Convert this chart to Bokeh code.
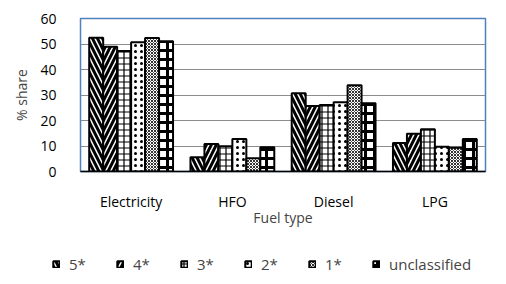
from bokeh.plotting import figure
from bokeh.models import FactorRange, Legend, LegendItem, ColumnDataSource, Range1d, FixedTicker
from bokeh.layouts import column
from bokeh.transform import dodge
from bokeh.embed import file_html
from bokeh.resources import INLINE

fuels = ["Electricity", "HFO", "Diesel", "LPG"]
classes = ["5*", "4*", "3*", "2*", "1*", "unclassified"]
s5 = [52.5, 5.6, 30.7, 11.2]
s4 = [48.9, 10.8, 25.7, 14.8]
s3 = [47.3, 9.9, 26.1, 16.6]
s2 = [50.7, 12.7, 27.2, 9.7]
s1 = [52.4, 5.2, 33.8, 9.3]
su = [51.1, 9.5, 26.8, 12.7]
yticks = [0, 10, 20, 30, 40, 50, 60]

series = [s5, s4, s3, s2, s1, su]
data = {"fuel": fuels}
for i, s in enumerate(series):
    data["s%d" % i] = s
src = ColumnDataSource(data)

FONT = "Open Sans"
W = 498

p = figure(x_range=FactorRange(factors=fuels, range_padding=0), y_range=Range1d(0, 60),
           width=W, height=236, output_backend="svg", toolbar_location=None,
           min_border_left=80, min_border_right=13, min_border_top=18, min_border_bottom=65)
p.frame_align = False

hatches = [
    dict(hatch_pattern="\\", hatch_scale=10, hatch_weight=3),
    dict(hatch_pattern="/", hatch_scale=10, hatch_weight=3),
    dict(hatch_pattern="+", hatch_scale=6, hatch_weight=1.2),
    dict(hatch_pattern=".", hatch_scale=6, hatch_weight=2),
    dict(hatch_pattern="x", hatch_scale=3, hatch_weight=0.8),
    dict(hatch_pattern="+", hatch_scale=9, hatch_weight=3),
]
style = dict(fill_color="white", line_color="black", line_width=2, hatch_color="black")

bw = 0.138
for i, s in enumerate(series):
    off = (i - 2.5) * bw
    p.vbar(x=dodge("fuel", off, range=p.x_range), top="s%d" % i, width=bw, source=src,
           **style, **hatches[i])

p.xgrid.grid_line_color = None
p.ygrid.grid_line_color = "#8c8c8c"
p.ygrid.ticker = FixedTicker(ticks=yticks)
p.yaxis.ticker = FixedTicker(ticks=yticks)
p.outline_line_color = "#4F81BD"
p.outline_line_width = 1.5

p.yaxis.axis_line_color = None
p.yaxis.major_tick_line_color = None
p.yaxis.minor_tick_line_color = None
p.yaxis.major_label_standoff = 18
p.yaxis.axis_label = "% share"
p.yaxis.axis_label_text_font_style = "normal"
p.yaxis.axis_label_text_font_size = "14px"
p.yaxis.axis_label_text_font = FONT
p.yaxis.axis_label_standoff = 6
p.yaxis.major_label_text_font_size = "14px"
p.yaxis.major_label_text_font = FONT
p.yaxis.major_label_text_color = "black"

p.xaxis.axis_line_color = "black"
p.xaxis.axis_line_width = 1.5
p.xaxis.major_tick_line_color = None
p.xaxis.major_tick_out = 0
p.xaxis.major_tick_in = 0
p.xaxis.major_label_standoff = 20
p.xaxis.major_label_text_font_size = "14px"
p.xaxis.major_label_text_font = FONT
p.xaxis.major_label_text_color = "black"
p.xaxis.axis_label = "Fuel type"
p.xaxis.axis_label_text_font_style = "normal"
p.xaxis.axis_label_text_font_size = "14px"
p.xaxis.axis_label_text_font = FONT
p.xaxis.axis_label_standoff = -6

# legend figure: its renderers are hidden, only the legend shows
lf = figure(width=W, height=40, x_range=Range1d(0, 1), y_range=Range1d(0, 1),
            output_backend="svg", toolbar_location=None,
            min_border_left=0, min_border_right=0, min_border_top=0, min_border_bottom=0,
            x_axis_type=None, y_axis_type=None)
lf.frame_align = False
lf.grid.visible = False
lf.outline_line_color = None
items = []
dummy = ColumnDataSource(dict(x=[-50], top=[-50]))
for i, c in enumerate(classes):
    r = lf.vbar(x="x", top="top", width=0.1, source=dummy, **style, **hatches[i])
    r.visible = False
    items.append(LegendItem(label=c, renderers=[r]))

legend = Legend(items=items, orientation="horizontal", location=(52, 2),
                glyph_width=8, glyph_height=8, label_standoff=9, spacing=30,
                label_width=17, label_height=16, padding=0, margin=0, border_line_color=None,
                background_fill_alpha=0, inactive_fill_alpha=0,
                label_text_font_size="15px", label_text_font=FONT)
lf.add_layout(legend)

layout = column(p, lf, spacing=0)
open("out.html", "w").write(file_html(layout, INLINE))
